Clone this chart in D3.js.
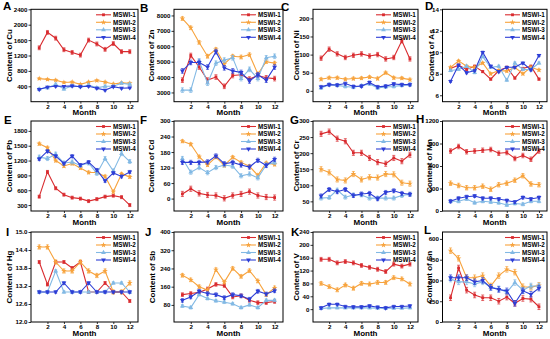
<!DOCTYPE html>
<meta charset="utf-8">
<head>
<style>
body { margin: 0; background: #fff; }
svg text { font-family: "Liberation Sans", Arial, sans-serif; font-weight: bold; fill: #000; }
.frame { fill: none; stroke: #000; stroke-width: 1px; }
.axis path.domain { display: none; }
.axis line { stroke: #000; stroke-width: 0.8px; }
.axis text { font-size: 6.2px; }
</style>
</head>
<body>
<script src="https://d3js.org/d3.v7.min.js"></script>
<div id="chart"></div>
<script>

var months = [1, 2, 3, 4, 5, 6, 7, 8, 9, 10, 11, 12];
var monthTicks = [2, 4, 6, 8, 10, 12];
var seriesNames = ["MSWI-1", "MSWI-2", "MSWI-3", "MSWI-4"];
var elements = ["Cu", "Zn", "Ni", "As", "Pb", "Cd", "Cr", "Mn", "Hg", "Sb", "V", "Sn"];
var letters = ["A", "B", "C", "D", "E", "F", "G", "H", "I", "J", "K", "L"];

// monthly contents, one row per plant (MSWI-1..4)
var Cu = [
  [1400, 1800, 1650, 1350, 1280, 1210, 1600, 1500, 1360, 1510, 1300, 1300],
  [600, 580, 560, 500, 510, 450, 510, 550, 510, 460, 490, 480],
  [330, 360, 450, 330, 410, 390, 430, 360, 400, 400, 480, 450],
  [320, 380, 400, 400, 410, 390, 400, 350, 300, 390, 350, 360]
];
var Zn = [
  [3800, 5400, 4650, 3800, 4000, 3400, 4100, 4150, 3870, 4100, 3950, 3900],
  [7800, 7200, 6250, 5350, 5800, 4850, 5350, 5300, 5450, 4200, 5000, 4900],
  [3150, 3150, 5050, 3600, 4900, 5100, 5250, 3900, 4500, 3900, 5250, 5350],
  [4400, 4950, 4950, 4650, 5650, 4600, 4400, 4300, 3750, 4150, 3800, 4650]
];
var Ni = [
  [90, 115, 102, 92, 98, 102, 96, 100, 88, 92, 138, 88],
  [32, 36, 36, 32, 34, 35, 38, 34, 50, 36, 35, 31],
  [8, 17, 15, 12, 10, 14, 19, 8, 11, 12, 15, 17],
  [11, 17, 16, 20, 12, 13, 23, 11, 13, 19, 17, 17]
];
var As = [
  [8.5, 8.8, 8.4, 8.7, 8.2, 7.5, 8.3, 8.6, 7.6, 8.5, 8.7, 7.5],
  [8.6, 9.2, 8.7, 8.6, 9.0, 8.0, 8.3, 8.25, 8.6, 8.0, 8.6, 8.35],
  [8.3, 8.4, 8.7, 8.1, 9.6, 8.6, 8.7, 7.4, 9.0, 8.4, 8.4, 9.0],
  [7.3, 8.8, 8.1, 8.3, 10.0, 8.7, 8.2, 8.6, 8.6, 9.0, 8.35, 9.7]
];
var Pb = [
  [470, 970, 640, 510, 450, 430, 380, 420, 470, 490, 460, 300],
  [1540, 1460, 1200, 1090, 1140, 1050, 960, 960, 880, 570, 930, 870],
  [1270, 1240, 1330, 1150, 1170, 1100, 1150, 940, 1240, 990, 1340, 1180],
  [1230, 1390, 1290, 1140, 1290, 1110, 1170, 1010, 790, 950, 880, 970]
];
var Cd = [
  [18, 38, 20, 14, 12, 1, 12, 18, 27, 12, 6, 4],
  [222, 210, 162, 130, 160, 128, 160, 140, 125, 90, 138, 132],
  [155, 102, 120, 100, 120, 130, 125, 88, 95, 80, 130, 140],
  [140, 140, 140, 142, 165, 135, 140, 130, 122, 148, 128, 152]
];
var Cr = [
  [260, 267, 245, 237, 201, 201, 185, 172, 167, 185, 175, 195],
  [150, 140, 118, 115, 135, 118, 125, 124, 135, 134, 108, 105],
  [60, 62, 85, 63, 70, 70, 60, 60, 60, 60, 68, 72],
  [67, 87, 80, 87, 68, 73, 75, 58, 78, 83, 75, 72]
];
var Mn = [
  [800, 860, 790, 800, 810, 820, 770, 780, 700, 740, 690, 800],
  [370, 340, 310, 310, 330, 290, 350, 370, 410, 470, 360, 350],
  [130, 130, 160, 110, 130, 120, 110, 80, 100, 90, 130, 130],
  [130, 170, 190, 200, 170, 170, 160, 140, 120, 180, 160, 180]
];
var Hg = [
  [14.0, 13.25, 14.0, 14.0, 13.8, 14.0, 13.0, 13.0, 13.3, 13.0, 13.0, 12.7],
  [14.5, 14.5, 14.0, 13.7, 13.7, 14.0, 13.7, 13.55, 13.7, 13.0, 13.0, 13.3],
  [13.0, 13.0, 13.7, 13.0, 13.0, 13.0, 13.0, 13.0, 13.0, 13.3, 13.3, 13.0],
  [13.0, 13.0, 13.0, 13.3, 13.0, 13.0, 13.3, 13.0, 13.0, 13.0, 13.0, 13.0]
];
var Sb = [
  [125, 130, 135, 150, 170, 165, 115, 120, 100, 90, 90, 95],
  [210, 190, 160, 145, 235, 180, 240, 205, 230, 185, 125, 155],
  [75, 68, 125, 108, 98, 92, 85, 68, 80, 68, 100, 100],
  [100, 115, 140, 130, 125, 112, 125, 120, 105, 140, 128, 142]
];
var V = [
  [155, 155, 144, 148, 144, 136, 130, 124, 117, 140, 134, 140],
  [80, 70, 60, 75, 65, 80, 78, 83, 83, 98, 94, 78],
  [2, 4, 4, 4, 4, 4, 4, 3, 3, 3, 3, 4],
  [4, 15, 15, 8, 7, 7, 10, 6, 4, 8, 8, 10]
];
var Sn = [
  [175, 390, 230, 195, 175, 175, 150, 180, 135, 170, 165, 110],
  [515, 460, 320, 320, 335, 260, 335, 380, 360, 255, 250, 265],
  [310, 290, 290, 275, 290, 250, 240, 215, 285, 230, 260, 260],
  [320, 320, 320, 290, 300, 250, 235, 225, 135, 225, 200, 245]
];

// typical error bar (+/-) for each plant
var errCu = [50, 25, 30, 20];
var errZn = [150, 120, 150, 150];
var errNi = [6, 4, 4, 4];
var errAs = [0.1, 0.1, 0.1, 0.1];
var errPb = [30, 30, 40, 30];
var errCd = [10, 6, 8, 8];
var errCr = [8, 8, 6, 6];
var errMn = [30, 30, 20, 20];
var errHg = [0.05, 0.07, 0.04, 0.04];
var errSb = [8, 8, 6, 8];
var errV = [6, 6, 3, 4];
var errSn = [20, 20, 20, 20];

var yTicks = [
  [400, 800, 1200, 1600, 2000, 2400],
  [3000, 4000, 5000, 6000, 7000, 8000],
  [0, 50, 100, 150, 200],
  [6, 8, 10, 12, 14],
  [300, 600, 900, 1200, 1500, 1800],
  [0, 60, 120, 180, 240, 300],
  [50, 100, 150, 200, 250, 300],
  [0, 300, 600, 900, 1200],
  [12.0, 12.6, 13.2, 13.8, 14.4, 15.0],
  [80, 160, 240, 320, 400],
  [0, 40, 80, 120, 160, 200, 240],
  [0, 150, 300, 450, 600]
];
var yDomains = [
  [0, 2400], [2400, 8400], [-30, 225], [5.4, 14],
  [180, 2000], [-48, 300], [20, 300], [0, 1200],
  [12, 15], [5, 400], [-40, 240], [0, 650]
];

var values = [Cu, Zn, Ni, As, Pb, Cd, Cr, Mn, Hg, Sb, V, Sn];
var errors = [errCu, errZn, errNi, errAs, errPb, errCd, errCr, errMn, errHg, errSb, errV, errSn];

var colors = ["#d92b2f", "#f7a33d", "#82b9e4", "#2d3ed6"];
var symbols = [d3.symbolSquare, d3.symbolStar, d3.symbolTriangle, d3.symbolTriangle];

// layout of the 4x3 grid
var colLeft = [31, 174, 313, 442.5],
    colRight = [138, 283, 418, 547],
    rowTop = [9.3, 121, 232],
    rowBottom = [101.7, 211, 322],
    titleX = [12, 154, 298.5, 434, 12, 154, 298.5, 432, 12, 155, 298.5, 432],
    letterPos = [[3, 10], [140, 11.5], [281, 11], [425, 10],
                 [4, 124], [140, 124], [290, 124], [416, 123],
                 [6, 236], [145, 236], [291, 236], [424, 234]];

var svg = d3.select("#chart").append("svg")
    .attr("width", 550)
    .attr("height", 339);

elements.forEach(function (el, i) {
  var col = i % 4, row = Math.floor(i / 4);
  var x0 = colLeft[col], x1 = colRight[col], y0 = rowTop[row], y1 = rowBottom[row];

  var x = d3.scaleLinear().domain([0, 13]).range([x0, x1]);
  var y = d3.scaleLinear().domain(yDomains[i]).range([y1, y0]);

  var g = svg.append("g");

  g.append("g")
      .attr("class", "axis")
      .attr("transform", "translate(0," + y1 + ")")
      .call(d3.axisBottom(x).tickValues(monthTicks).tickSize(2).tickPadding(0.5));

  g.append("g")
      .attr("class", "axis")
      .attr("transform", "translate(" + x0 + ",0)")
      .call(d3.axisLeft(y).tickValues(yTicks[i]).tickSize(2.5).tickPadding(1)
        .tickFormat(el === "Hg" ? d3.format(".1f") : d3.format("d")));

  g.append("rect")
      .attr("class", "frame")
      .attr("x", x0).attr("y", y0)
      .attr("width", x1 - x0).attr("height", y1 - y0);

  // series
  values[i].forEach(function (vals, s) {
    var pts = months.map(function (m, k) { return [m, vals[k]]; });
    var e = errors[i][s];
    var sg = g.append("g");

    sg.selectAll(".eb")
      .data(pts)
      .enter().append("path")
      .attr("d", function (d) {
        var cx = x(d[0]), ya = y(d[1] - e), yb = y(d[1] + e);
        return "M" + cx + "," + ya + "V" + yb +
               "M" + (cx - 1.5) + "," + ya + "H" + (cx + 1.5) +
               "M" + (cx - 1.5) + "," + yb + "H" + (cx + 1.5);
      })
      .attr("stroke", colors[s])
      .attr("stroke-width", 0.7)
      .attr("fill", "none");

    sg.append("path")
      .datum(pts)
      .attr("d", d3.line().x(function (d) { return x(d[0]); }).y(function (d) { return y(d[1]); }))
      .attr("fill", "none")
      .attr("stroke", colors[s])
      .attr("stroke-width", 1.1);

    sg.selectAll(".mk")
      .data(pts)
      .enter().append("path")
      .attr("d", d3.symbol().type(symbols[s]).size(s === 0 ? 8 : 10))
      .attr("transform", function (d) {
        return "translate(" + x(d[0]) + "," + y(d[1]) + ")" + (s === 3 ? " rotate(180)" : "");
      })
      .attr("fill", colors[s]);
  });

  // legend
  var lx = x1 - 42;
  seriesNames.forEach(function (name, s) {
    var ly = y0 + 5.5 + s * 7.5;
    g.append("line")
      .attr("x1", lx).attr("x2", lx + 15)
      .attr("y1", ly).attr("y2", ly)
      .attr("stroke", colors[s]).attr("stroke-width", 1.1);
    g.append("path")
      .attr("d", d3.symbol().type(symbols[s]).size(s === 0 ? 8 : 10))
      .attr("transform", "translate(" + (lx + 7.5) + "," + ly + ")" + (s === 3 ? " rotate(180)" : ""))
      .attr("fill", colors[s]);
    g.append("text")
      .attr("x", lx + 17).attr("y", ly + 2.2)
      .style("font-size", "6.3px")
      .text(name);
  });

  // titles
  g.append("text")
    .attr("x", (x0 + x1) / 2).attr("y", y1 + 13.5)
    .attr("text-anchor", "middle")
    .style("font-size", "8px")
    .text("Month");

  g.append("text")
    .attr("transform", "translate(" + titleX[i] + "," + ((y0 + y1) / 2) + ") rotate(-90)")
    .attr("text-anchor", "middle")
    .style("font-size", "8px")
    .text("Content of " + el);

  g.append("text")
    .attr("x", letterPos[i][0]).attr("y", letterPos[i][1])
    .style("font-size", "11.5px")
    .text(letters[i]);
});
</script>
</body>
